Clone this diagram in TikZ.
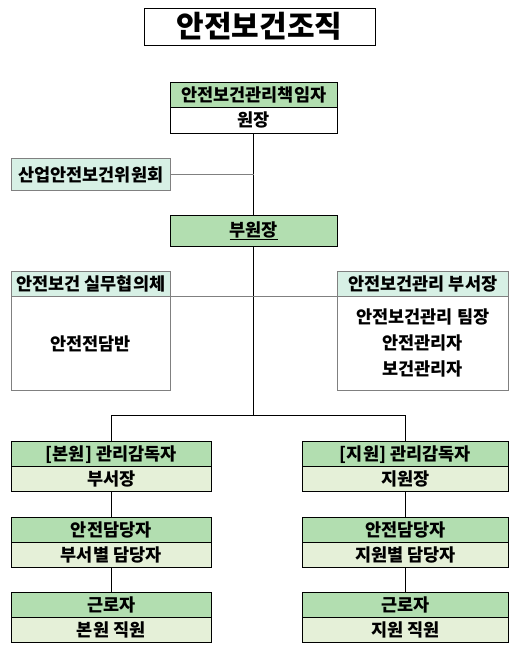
\documentclass[tikz,border=0pt]{standalone}
\usepackage{fontspec}
\setmainfont{Noto Sans CJK KR}
\definecolor{hdrgreen}{RGB}{178,222,176}
\definecolor{lightgreen}{RGB}{229,240,216}
\definecolor{mint}{RGB}{215,240,229}
\definecolor{linegray}{RGB}{128,128,128}
\tikzset{
  box/.style={draw,line width=0.9pt,inner sep=0pt,font=\bfseries\fontsize{17.5}{20}\selectfont},
  hdr/.style={box,fill=hdrgreen},
  lite/.style={box,fill=lightgreen},
  soft/.style={box,draw=linegray}
}

\begin{document}
\begin{tikzpicture}[x=1pt,y=-1pt]
    \useasboundingbox (0,0) rectangle (521,651);
    % Title
    \node[draw,line width=0.9pt,minimum width=231pt,minimum height=37pt,font=\bfseries\fontsize{30}{32}\selectfont] (title) at (259.5,26.7) {안전보건조직};
    % Chief and vice
    \node[hdr,minimum width=167pt,minimum height=25pt] (chiefh) at (253.8,94.8) {안전보건관리책임자};
    \node[box,fill=white,minimum width=167pt,minimum height=26pt] (chiefb) at (253.8,120.3) {원장};
    \node[hdr,minimum width=167pt,minimum height=31.3pt] (vice) at (253.8,230.7) {\underline{부원장}};
    \node[soft,fill=mint,minimum width=159pt,minimum height=31.6pt] (comm) at (90.8,174.5) {산업안전보건위원회};
    % Working group and safety department
    \node[soft,fill=mint,minimum width=159pt,minimum height=24.3pt] (workh) at (90.8,283.9) {안전보건 실무협의체};
    \node[soft,fill=white,minimum width=159pt,minimum height=94.7pt] (workb) at (90.8,343.4) {안전전담반};
    \node[soft,fill=mint,minimum width=171pt,minimum height=24.3pt] (safeh) at (422.8,283.9) {안전보건관리 부서장};
    \node[soft,fill=white,minimum width=171pt,minimum height=94.7pt,align=center,
          font=\bfseries\fontsize{17.5}{26}\selectfont] (safeb) at (422.8,343.4) {안전보건관리 팀장\\안전관리자\\보건관리자};
    % Head office column
    \node[hdr,minimum width=199.7pt,minimum height=25pt] (hqh1) at (111.2,454.2) {[본원] 관리감독자};
    \node[lite,minimum width=199.7pt,minimum height=24.6pt] (hqb1) at (111.2,479) {부서장};
    \node[hdr,minimum width=199.7pt,minimum height=25pt] (hqh2) at (111.2,529.8) {안전담당자};
    \node[lite,minimum width=199.7pt,minimum height=25pt] (hqb2) at (111.2,554.8) {부서별 담당자};
    \node[hdr,minimum width=199.7pt,minimum height=25pt] (hqh3) at (111.2,605.2) {근로자};
    \node[lite,minimum width=199.7pt,minimum height=24.6pt] (hqb3) at (111.2,630) {본원 직원};
    % Branch column
    \node[hdr,minimum width=206pt,minimum height=25pt] (brh1) at (405.3,454.2) {[지원] 관리감독자};
    \node[lite,minimum width=206pt,minimum height=24.6pt] (brb1) at (405.3,479) {지원장};
    \node[hdr,minimum width=206pt,minimum height=25pt] (brh2) at (405.3,529.8) {안전담당자};
    \node[lite,minimum width=206pt,minimum height=25pt] (brb2) at (405.3,554.8) {지원별 담당자};
    \node[hdr,minimum width=206pt,minimum height=25pt] (brh3) at (405.3,605.2) {근로자};
    \node[lite,minimum width=206pt,minimum height=24.6pt] (brb3) at (405.3,630) {지원 직원};
    % Connectors
    \coordinate (fork) at (253.8,415.7);
    \draw[line width=0.9pt] (chiefb.south) -- (vice.north);
    \draw[line width=0.9pt] (vice.south) -- (fork);
    \draw[line width=0.9pt] (hqh1.north) |- (fork) -| (brh1.north);
    \draw[linegray,line width=0.9pt] (comm.east) -- (comm.east -| chiefb.south);
    \draw[linegray,line width=0.9pt] (workh.south east) -- (safeh.south west);
    \draw[line width=0.9pt] (hqb1.south) -- (hqh2.north);
    \draw[line width=0.9pt] (hqb2.south) -- (hqh3.north);
    \draw[line width=0.9pt] (brb1.south) -- (brh2.north);
    \draw[line width=0.9pt] (brb2.south) -- (brh3.north);
\end{tikzpicture}
\end{document}
